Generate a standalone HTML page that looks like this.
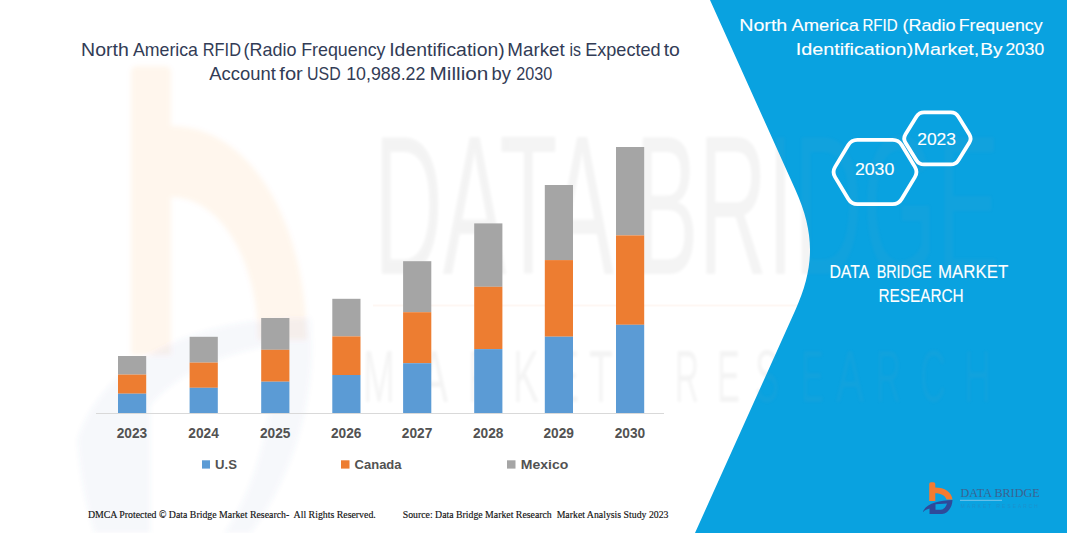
<!DOCTYPE html>
<html><head><meta charset="utf-8">
<style>
html,body{margin:0;padding:0;width:1067px;height:533px;overflow:hidden;background:#fff;}
svg{display:block;}
text{font-family:"Liberation Sans",sans-serif;}
.ttl{font-size:17.8px;fill:#323C56;}
.yr{font-size:13.8px;font-weight:bold;fill:#525252;}
.lg{font-size:13.5px;font-weight:bold;fill:#525252;}
.ft{font-family:"Liberation Serif",serif;font-size:10.5px;fill:#111;stroke:#111;stroke-width:0.15px;}
.wt{font-size:17px;fill:#ffffff;stroke:#fff;stroke-width:0.12px;}
.wt2{font-size:17.7px;fill:#ffffff;stroke:#fff;stroke-width:0.12px;}
</style></head><body>
<svg width="1067" height="533" viewBox="0 0 1067 533">
<defs>
<filter id="bl" x="-20%" y="-20%" width="140%" height="140%"><feGaussianBlur stdDeviation="2.5"/></filter>
<filter id="bl2" x="-5%" y="-20%" width="110%" height="140%"><feGaussianBlur stdDeviation="1.5"/></filter>
<clipPath id="cpW"><path d="M0,0 L710,0 L795.5,190 C814.9,233.1 814.8,266.9 795.4,310 L695,533 L0,533 Z"/></clipPath>
<clipPath id="cpB"><path d="M710,0 L1067,0 L1067,533 L695,533 L795.4,310 C814.8,266.9 814.9,233.1 795.5,190 Z"/></clipPath>
<g id="wmt">
<text x="374" y="274" textLength="626" lengthAdjust="spacingAndGlyphs" style="font-size:199px;">DATA BRIDGE</text>
<text x="363" y="402" textLength="32" lengthAdjust="spacingAndGlyphs" style="font-size:75px">M</text><text x="420" y="402" textLength="28" lengthAdjust="spacingAndGlyphs" style="font-size:75px">A</text><text x="468" y="402" textLength="26" lengthAdjust="spacingAndGlyphs" style="font-size:75px">R</text><text x="513" y="402" textLength="26" lengthAdjust="spacingAndGlyphs" style="font-size:75px">K</text><text x="555" y="402" textLength="24" lengthAdjust="spacingAndGlyphs" style="font-size:75px">E</text><text x="589" y="402" textLength="24" lengthAdjust="spacingAndGlyphs" style="font-size:75px">T</text><text x="675" y="402" textLength="24" lengthAdjust="spacingAndGlyphs" style="font-size:75px">R</text><text x="717" y="402" textLength="23" lengthAdjust="spacingAndGlyphs" style="font-size:75px">E</text><text x="755" y="402" textLength="24" lengthAdjust="spacingAndGlyphs" style="font-size:75px">S</text><text x="801" y="402" textLength="23" lengthAdjust="spacingAndGlyphs" style="font-size:75px">E</text><text x="836" y="402" textLength="28" lengthAdjust="spacingAndGlyphs" style="font-size:75px">A</text><text x="876" y="402" textLength="25" lengthAdjust="spacingAndGlyphs" style="font-size:75px">R</text><text x="920" y="402" textLength="26" lengthAdjust="spacingAndGlyphs" style="font-size:75px">C</text><text x="964" y="402" textLength="27" lengthAdjust="spacingAndGlyphs" style="font-size:75px">H</text>
</g>
</defs>
<rect width="1067" height="533" fill="#fff"/>
<path d="M710,0 L1067,0 L1067,533 L695,533 L795.4,310 C814.8,266.9 814.9,233.1 795.5,190 Z" fill="#09A2E0"/>
<g filter="url(#bl)">
<g fill="#F47B30" opacity="0.07">
<path d="M131,72 Q131,66 137,66 L165,66 Q171,66 171,72 L171,355 L131,355 Z"/>
<path d="M171,126 C250,126 305,220 307,340 L258,340 C258,260 220,197 171,197 Z"/>
</g>
<path d="M78,440 C100,370 180,318 310,318 C318,400 290,480 250,533 L95,533 C85,500 80,470 78,440 Z M150,405 C180,370 230,350 275,345 C275,420 255,490 225,533 L150,533 Z" fill="#3A64B0" opacity="0.05" fill-rule="evenodd"/>
</g>
<g clip-path="url(#cpW)"><use href="#wmt" filter="url(#bl2)" fill="#000" opacity="0.045"/></g>
<g clip-path="url(#cpB)"><use href="#wmt" filter="url(#bl2)" fill="#9AB" opacity="0.06"/></g>
<rect x="373" y="304.5" width="627" height="2" fill="#F47B30" opacity="0.06" clip-path="url(#cpW)"/>
<rect x="96" y="413" width="568" height="1" fill="#D9D9D9"/>
<rect x="118.0" y="356.0" width="28.2" height="18.60" fill="#A5A5A5"/><rect x="118.0" y="374.6" width="28.2" height="19.10" fill="#ED7D31"/><rect x="118.0" y="393.7" width="28.2" height="19.30" fill="#5B9BD5"/><rect x="189.6" y="336.8" width="28.2" height="25.80" fill="#A5A5A5"/><rect x="189.6" y="362.6" width="28.2" height="25.20" fill="#ED7D31"/><rect x="189.6" y="387.8" width="28.2" height="25.20" fill="#5B9BD5"/><rect x="261.2" y="318.0" width="28.2" height="31.80" fill="#A5A5A5"/><rect x="261.2" y="349.8" width="28.2" height="31.90" fill="#ED7D31"/><rect x="261.2" y="381.7" width="28.2" height="31.30" fill="#5B9BD5"/><rect x="332.3" y="298.8" width="28.2" height="37.60" fill="#A5A5A5"/><rect x="332.3" y="336.4" width="28.2" height="38.60" fill="#ED7D31"/><rect x="332.3" y="375.0" width="28.2" height="38.00" fill="#5B9BD5"/><rect x="403.1" y="261.2" width="28.2" height="51.00" fill="#A5A5A5"/><rect x="403.1" y="312.2" width="28.2" height="51.00" fill="#ED7D31"/><rect x="403.1" y="363.2" width="28.2" height="49.80" fill="#5B9BD5"/><rect x="474.2" y="223.4" width="28.2" height="63.40" fill="#A5A5A5"/><rect x="474.2" y="286.8" width="28.2" height="62.30" fill="#ED7D31"/><rect x="474.2" y="349.1" width="28.2" height="63.90" fill="#5B9BD5"/><rect x="544.8" y="185.0" width="28.2" height="75.10" fill="#A5A5A5"/><rect x="544.8" y="260.1" width="28.2" height="76.60" fill="#ED7D31"/><rect x="544.8" y="336.7" width="28.2" height="76.30" fill="#5B9BD5"/><rect x="616.0" y="147.0" width="28.2" height="88.40" fill="#A5A5A5"/><rect x="616.0" y="235.4" width="28.2" height="89.40" fill="#ED7D31"/><rect x="616.0" y="324.8" width="28.2" height="88.20" fill="#5B9BD5"/>
<rect x="202" y="460.3" width="8" height="8.3" fill="#5B9BD5"/>
<rect x="341" y="460.3" width="8.5" height="8.3" fill="#ED7D31"/>
<rect x="507" y="460.3" width="8.5" height="8.3" fill="#A5A5A5"/>
<path d="M848.30,144.94 Q851.40,139.80 857.40,139.80 L892.60,139.80 Q898.60,139.80 901.70,144.94 L914.90,166.86 Q918.00,172.00 914.90,177.14 L901.70,199.06 Q898.60,204.20 892.60,204.20 L857.40,204.20 Q851.40,204.20 848.30,199.06 L835.10,177.14 Q832.00,172.00 835.10,166.86 Z" fill="none" stroke="#fff" stroke-width="3.8"/>
<path d="M916.37,116.65 Q919.00,112.40 924.00,112.40 L950.80,112.40 Q955.80,112.40 958.43,116.65 L969.27,134.15 Q971.90,138.40 969.27,142.65 L958.43,160.15 Q955.80,164.40 950.80,164.40 L924.00,164.40 Q919.00,164.40 916.37,160.15 L905.53,142.65 Q902.90,138.40 905.53,134.15 Z" fill="none" stroke="#fff" stroke-width="3.8"/>
<text x="81.1" y="56" textLength="47.67" lengthAdjust="spacingAndGlyphs" class="ttl" xml:space="preserve">North</text>
<text x="132.9" y="56" textLength="65.09" lengthAdjust="spacingAndGlyphs" class="ttl" xml:space="preserve">America</text>
<text x="202.78" y="56" textLength="38.2" lengthAdjust="spacingAndGlyphs" class="ttl" xml:space="preserve">RFID</text>
<text x="243.49" y="56" textLength="52.9" lengthAdjust="spacingAndGlyphs" class="ttl" xml:space="preserve">(Radio</text>
<text x="301.2" y="56" textLength="84.29" lengthAdjust="spacingAndGlyphs" class="ttl" xml:space="preserve">Frequency</text>
<text x="389.21" y="56" textLength="115.5" lengthAdjust="spacingAndGlyphs" class="ttl" xml:space="preserve">Identification)</text>
<text x="507.35" y="56" textLength="57.29" lengthAdjust="spacingAndGlyphs" class="ttl" xml:space="preserve">Market</text>
<text x="569.4" y="56" textLength="11.5" lengthAdjust="spacingAndGlyphs" class="ttl" xml:space="preserve">is</text>
<text x="585.18" y="56" textLength="75.42" lengthAdjust="spacingAndGlyphs" class="ttl" xml:space="preserve">Expected</text>
<text x="663.7" y="56" textLength="16.18" lengthAdjust="spacingAndGlyphs" class="ttl" xml:space="preserve">to</text>
<text x="209.3" y="79.5" textLength="66.54" lengthAdjust="spacingAndGlyphs" class="ttl" xml:space="preserve">Account</text>
<text x="279.3" y="79.5" textLength="23.51" lengthAdjust="spacingAndGlyphs" class="ttl" xml:space="preserve">for</text>
<text x="307.1" y="79.5" textLength="33.65" lengthAdjust="spacingAndGlyphs" class="ttl" xml:space="preserve">USD</text>
<text x="346.2" y="79.5" textLength="79.19" lengthAdjust="spacingAndGlyphs" class="ttl" xml:space="preserve">10,988.22</text>
<text x="429.53" y="79.5" textLength="58.91" lengthAdjust="spacingAndGlyphs" class="ttl" xml:space="preserve">Million</text>
<text x="491.57" y="79.5" textLength="19.42" lengthAdjust="spacingAndGlyphs" class="ttl" xml:space="preserve">by</text>
<text x="516.3" y="79.5" textLength="36" lengthAdjust="spacingAndGlyphs" class="ttl" xml:space="preserve">2030</text>
<text x="739.24" y="31.3" textLength="48.08" lengthAdjust="spacingAndGlyphs" class="wt" xml:space="preserve">North</text>
<text x="791.4" y="31.3" textLength="67.51" lengthAdjust="spacingAndGlyphs" class="wt" xml:space="preserve">America</text>
<text x="862.41" y="31.3" textLength="35.23" lengthAdjust="spacingAndGlyphs" class="wt" xml:space="preserve">RFID</text>
<text x="902.44" y="31.3" textLength="53.25" lengthAdjust="spacingAndGlyphs" class="wt" xml:space="preserve">(Radio</text>
<text x="958.65" y="31.3" textLength="84.02" lengthAdjust="spacingAndGlyphs" class="wt" xml:space="preserve">Frequency</text>
<text x="795.74" y="54.5" textLength="117.53" lengthAdjust="spacingAndGlyphs" class="wt" xml:space="preserve">Identification)</text>
<text x="913.54" y="54.5" textLength="65.8" lengthAdjust="spacingAndGlyphs" class="wt" xml:space="preserve">Market,</text>
<text x="980.38" y="54.5" textLength="22.26" lengthAdjust="spacingAndGlyphs" class="wt" xml:space="preserve">By</text>
<text x="1005.4" y="54.5" textLength="38.77" lengthAdjust="spacingAndGlyphs" class="wt" xml:space="preserve">2030</text>
<text x="829.4" y="277.5" textLength="39.91" lengthAdjust="spacingAndGlyphs" class="wt2" xml:space="preserve">DATA</text>
<text x="876.69" y="277.5" textLength="54.95" lengthAdjust="spacingAndGlyphs" class="wt2" xml:space="preserve">BRIDGE</text>
<text x="938.05" y="277.5" textLength="70.17" lengthAdjust="spacingAndGlyphs" class="wt2" xml:space="preserve">MARKET</text>
<text x="878.43" y="301.5" textLength="85.24" lengthAdjust="spacingAndGlyphs" class="wt2" xml:space="preserve">RESEARCH</text>
<text x="854.9" y="175.4" textLength="39.37" lengthAdjust="spacingAndGlyphs" class="wt" xml:space="preserve">2030</text>
<text x="917.2" y="144.6" textLength="38.77" lengthAdjust="spacingAndGlyphs" class="wt" xml:space="preserve">2023</text>
<text x="215" y="468.8" textLength="21.9" lengthAdjust="spacingAndGlyphs" class="lg" xml:space="preserve">U.S</text>
<text x="354.6" y="468.8" textLength="46.93" lengthAdjust="spacingAndGlyphs" class="lg" xml:space="preserve">Canada</text>
<text x="520.8" y="468.8" textLength="47.46" lengthAdjust="spacingAndGlyphs" class="lg" xml:space="preserve">Mexico</text>
<text x="87.9" y="518.3" textLength="287.88" lengthAdjust="spacingAndGlyphs" class="ft" xml:space="preserve">DMCA Protected © Data Bridge Market Research-  All Rights Reserved.</text>
<text x="402.7" y="518.3" textLength="265.83" lengthAdjust="spacingAndGlyphs" class="ft" xml:space="preserve">Source: Data Bridge Market Research  Market Analysis Study 2023</text>
<text x="116.7" y="438.3" textLength="30.48" lengthAdjust="spacingAndGlyphs" class="yr" xml:space="preserve">2023</text>
<text x="188.3" y="438.3" textLength="30.48" lengthAdjust="spacingAndGlyphs" class="yr" xml:space="preserve">2024</text>
<text x="259.9" y="438.3" textLength="30.48" lengthAdjust="spacingAndGlyphs" class="yr" xml:space="preserve">2025</text>
<text x="331" y="438.3" textLength="30.48" lengthAdjust="spacingAndGlyphs" class="yr" xml:space="preserve">2026</text>
<text x="401.8" y="438.3" textLength="30.48" lengthAdjust="spacingAndGlyphs" class="yr" xml:space="preserve">2027</text>
<text x="472.9" y="438.3" textLength="30.48" lengthAdjust="spacingAndGlyphs" class="yr" xml:space="preserve">2028</text>
<text x="543.5" y="438.3" textLength="30.48" lengthAdjust="spacingAndGlyphs" class="yr" xml:space="preserve">2029</text>
<text x="614.7" y="438.3" textLength="30.48" lengthAdjust="spacingAndGlyphs" class="yr" xml:space="preserve">2030</text>
<g>
<path d="M929.2,484 Q929.2,482.3 931,482.3 L933.5,482.3 Q935.3,482.3 935.3,484 L935.3,501 L929.2,501 Z" fill="#F47B30"/>
<path d="M935,487.5 C945,487.5 951.5,492 952.5,499.5 L946.5,499.5 C945.5,495.5 941,493.2 935,493.2 Z" fill="#F47B30"/>
<path d="M922.7,512 C926,503.5 939,500.3 952.5,500 C952.3,507 948,513.6 942,514 L929.5,514 L929.5,508.5 C926.5,509.5 924.5,510.5 922.7,512 Z M935.5,504.2 L947,503.6 C946,507 944,509.5 941,509.7 L935.5,509.7 Z" fill="#2E4A9A" fill-rule="evenodd"/>
<text x="960.6" y="497" textLength="79" lengthAdjust="spacingAndGlyphs" style="font-family:'Liberation Serif',serif;font-size:13px" fill="#3B6391">DATA BRIDGE</text>
<rect x="960" y="499.8" width="42" height="1" fill="#7CC6EC"/>
<text x="960.6" y="508" textLength="79" lengthAdjust="spacingAndGlyphs" style="font-size:5px;letter-spacing:2px" fill="#3A6FA8" opacity="0.35">MARKET RESEARCH</text>
</g>
</svg>
</body></html>
